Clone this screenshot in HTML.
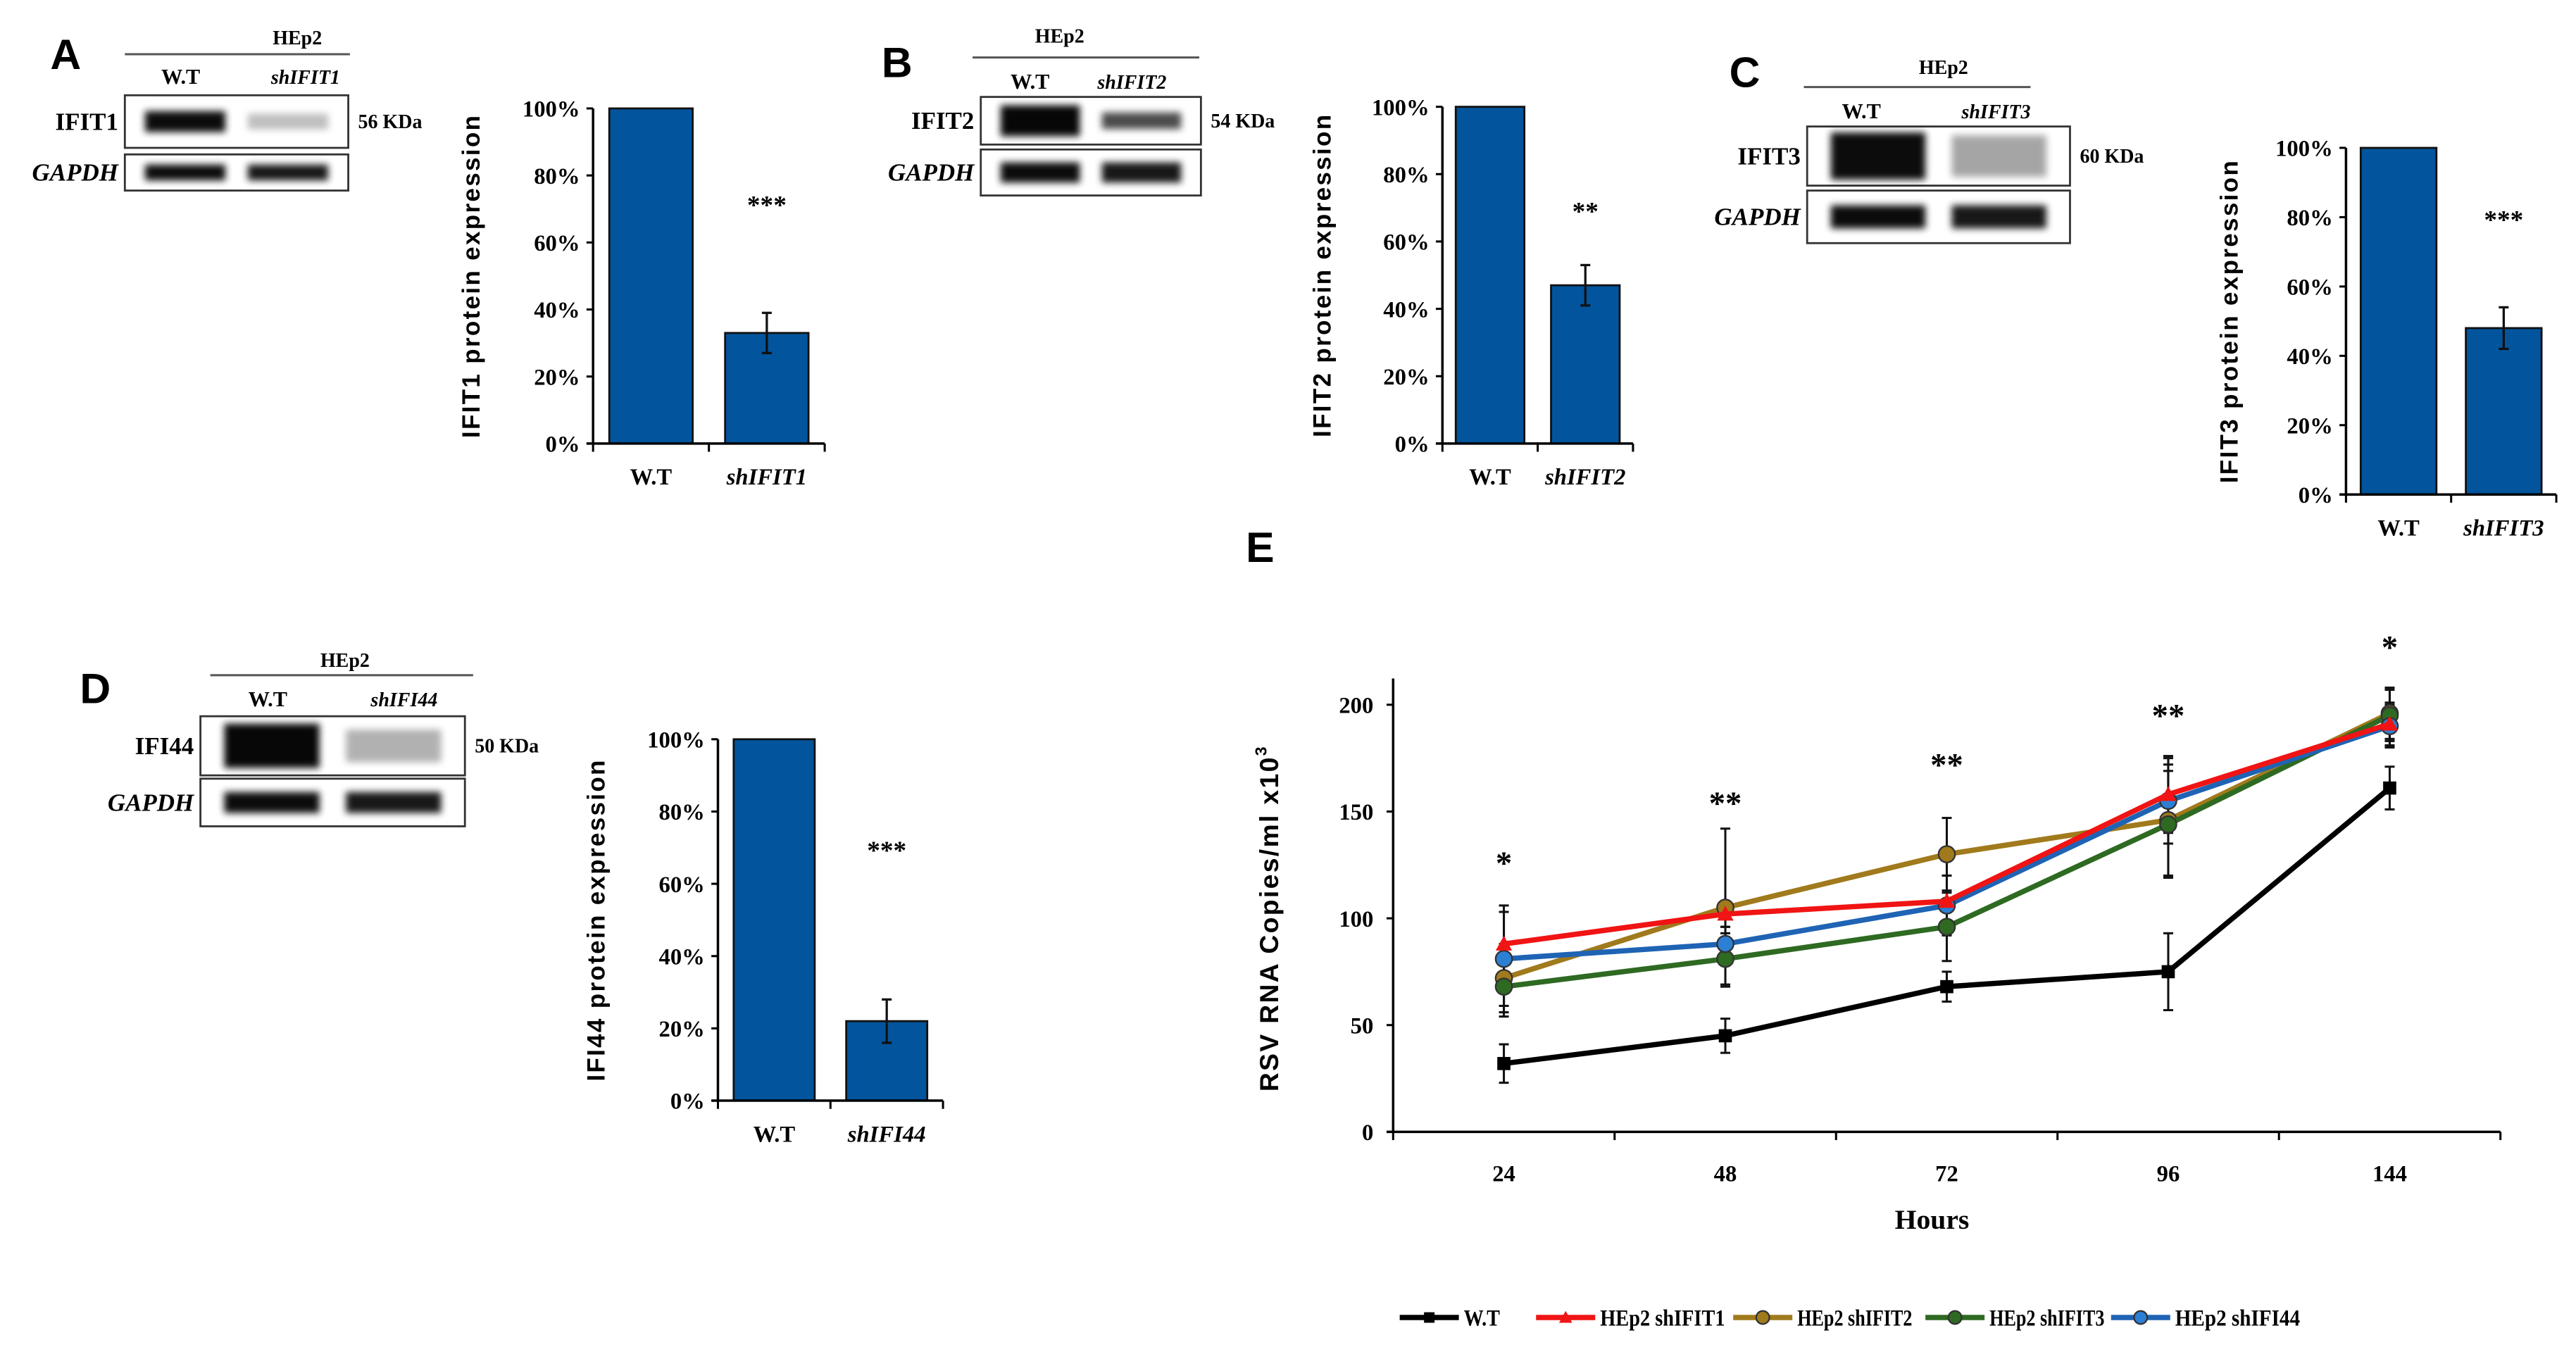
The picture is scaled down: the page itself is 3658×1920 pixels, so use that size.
<!DOCTYPE html>
<html><head><meta charset="utf-8">
<style>
html,body{margin:0;padding:0;background:#fff;}
svg{display:block;}
text{font-family:"Liberation Serif",serif;font-weight:bold;fill:#000;}
.sans{font-family:"Liberation Sans",sans-serif;}
</style></head>
<body>
<svg id="fig" width="3658" height="1920" viewBox="0 0 1568 823" preserveAspectRatio="none" xmlns="http://www.w3.org/2000/svg">
<defs>
<filter id="blur" x="-20%" y="-50%" width="140%" height="200%"><feGaussianBlur stdDeviation="2.2"/></filter>
</defs>
<g id="root"></g>
</svg>
<script>
// ---- Bar panels data ----
const barCats = ["W.T", "sh"];
const barValsA = [100, 33];
const barErrA = [0, 6];
const barValsB = [100, 47];
const barErrB = [0, 6];
const barValsC = [100, 48];
const barErrC = [0, 6];
const barValsD = [100, 22];
const barErrD = [0, 6];
const pctTicks = [0, 20, 40, 60, 80, 100];

// ---- Line chart E data ----
const hoursCats = ["24", "48", "72", "96", "144"];
const yTicksE = [0, 50, 100, 150, 200];
const wtVals = [32, 45, 68, 75, 161];
const wtErr = [9, 8, 7, 18, 10];
const sh1Vals = [88, 102, 108, 158, 191];
const sh1Err = [18, 6, 12, 18, 10];
const sh2Vals = [72, 105, 130, 146, 196];
const sh2Err = [16, 37, 17, 26, 12];
const sh3Vals = [68, 81, 96, 144, 195];
const sh3Err = [14, 12, 16, 25, 12];
const sh44Vals = [81, 88, 106, 155, 190];
const sh44Err = [22, 8, 14, 20, 10];
const starLabels = ["*", "**", "**", "**", "*"];
const starY = [127, 155, 173, 196, 228];

const NS = "http://www.w3.org/2000/svg";
const root = document.getElementById("root");
function mk(tag, attrs, parent) {
  const e = document.createElementNS(NS, tag);
  for (const k in attrs) e.setAttribute(k, attrs[k]);
  (parent || root).appendChild(e);
  return e;
}
function txt(x, y, s, size, anchor, parent, extra) {
  const t = mk("text", Object.assign({x: x, y: y, "font-size": size, "text-anchor": anchor || "middle"}, extra || {}), parent);
  t.textContent = s;
  return t;
}

// ---- Western blot drawing ----
function blot(cfg) {
  const g = mk("g", {});
  
  
  const L = txt(cfg.letter[0], cfg.letter[1], cfg.id.toUpperCase(), 26, "middle", g, {class: "sans"});
  
  
  txt(cfg.hx, cfg.hy, "HEp2", 12, "middle", g);
  mk("line", {x1: cfg.lx1, x2: cfg.lx2, y1: cfg.ly, y2: cfg.ly, stroke: "#555", "stroke-width": 1.3}, g);
  txt(cfg.c1, cfg.cy, "W.T", 13, "middle", g);
  txt(cfg.c2, cfg.cy, cfg.sh, 12, "middle", g, {"font-style": "italic"});
  const b1 = cfg.b1, b2 = cfg.b2;
  mk("rect", {x: b1[0], y: b1[1], width: b1[2] - b1[0], height: b1[3] - b1[1], fill: "#fff", stroke: "#333", "stroke-width": 1.2}, g);
  mk("rect", {x: b2[0], y: b2[1], width: b2[2] - b2[0], height: b2[3] - b2[1], fill: "#fff", stroke: "#333", "stroke-width": 1.2}, g);
  const w = b1[2] - b1[0];
  const lanes = [b1[0] + w * 0.27, b1[0] + w * 0.73];
  const bw = w * 0.36;
  const m1 = (b1[1] + b1[3]) / 2, h1 = (b1[3] - b1[1]);
  const m2 = (b2[1] + b2[3]) / 2, h2 = (b2[3] - b2[1]);
  mk("rect", {x: lanes[0] - bw / 2, y: m1 - h1 * cfg.th[0] / 2, width: bw, height: h1 * cfg.th[0], fill: "#000", opacity: cfg.op[0], filter: "url(#blur)"}, g);
  mk("rect", {x: lanes[1] - bw / 2, y: m1 - h1 * cfg.th[1] / 2, width: bw, height: h1 * cfg.th[1], fill: "#000", opacity: cfg.op[1], filter: "url(#blur)"}, g);
  mk("rect", {x: lanes[0] - bw / 2, y: m2 - h2 * 0.22, width: bw, height: h2 * 0.44, fill: "#000", opacity: 0.95, filter: "url(#blur)"}, g);
  mk("rect", {x: lanes[1] - bw / 2, y: m2 - h2 * 0.22, width: bw, height: h2 * 0.44, fill: "#000", opacity: 0.9, filter: "url(#blur)"}, g);
  txt(b1[0] - 4, m1 + 5, cfg.prot, 15, "end", g);
  txt(b2[0] - 4, m2 + 5, "GAPDH", 15, "end", g, {"font-style": "italic"});
  txt(b1[2] + 6, m1 + 4, cfg.kda, 12, "start", g);
}

blot({id: "a", letter: [40, 42], hx: 181, hy: 27, lx1: 76, lx2: 213, ly: 33, c1: 110, c2: 186, cy: 51, sh: "shIFIT1",
  b1: [76, 58, 212, 90], b2: [76, 94, 212, 116], th: [0.4, 0.3], op: [0.95, 0.25], prot: "IFIT1", kda: "56 KDa"});
blot({id: "b", letter: [546, 47], hx: 645, hy: 26, lx1: 592, lx2: 730, ly: 35, c1: 627, c2: 689, cy: 54, sh: "shIFIT2",
  b1: [597, 59, 731, 88], b2: [597, 91, 731, 119], th: [0.65, 0.35], op: [0.97, 0.7], prot: "IFIT2", kda: "54 KDa"});
blot({id: "c", letter: [1062, 53], hx: 1183, hy: 45, lx1: 1098, lx2: 1236, ly: 53, c1: 1133, c2: 1215, cy: 72, sh: "shIFIT3",
  b1: [1100, 77, 1260, 113], b2: [1100, 116, 1260, 148], th: [0.8, 0.7], op: [0.95, 0.35], prot: "IFIT3", kda: "60 KDa"});
blot({id: "d", letter: [58, 428], hx: 210, hy: 406, lx1: 128, lx2: 288, ly: 411, c1: 163, c2: 246, cy: 430, sh: "shIFI44",
  b1: [122, 436, 283, 472], b2: [122, 474, 283, 503], th: [0.75, 0.55], op: [0.97, 0.3], prot: "IFI44", kda: "50 KDa"});

// ---- Bar charts ----
function barChart(cfg) {
  const g = mk("g", {});
  
  
  const y = v => cfg.y0 - (cfg.y0 - cfg.y100) * v / 100;
  pctTicks.forEach(t => {
    mk("line", {x1: cfg.ax - 4, x2: cfg.ax, y1: y(t), y2: y(t), stroke: "#000", "stroke-width": 1.3}, g);
    const tl = txt(cfg.ax - 8, y(t) + 5, t + "%", 14, "end", g);
    
    
  });
  const slot = (cfg.axEnd - cfg.ax) / barCats.length;
  const labels = ["W.T", cfg.sh];
  cfg.vals.forEach((v, i) => {
    const cx = cfg.ax + slot * (i + 0.5);
    const bw = slot * 0.72;
    const r = mk("rect", {x: cx - bw / 2, y: y(v), width: bw, height: y(0) - y(v), fill: "#02549c", stroke: "#111", "stroke-width": 1.2}, g);
    
    
    const e = cfg.err[i];
    if (e > 0) {
      mk("line", {x1: cx, x2: cx, y1: y(v + e), y2: y(v - e), stroke: "#111", "stroke-width": 1.4}, g);
      mk("line", {x1: cx - 3, x2: cx + 3, y1: y(v + e), y2: y(v + e), stroke: "#111", "stroke-width": 1.4}, g);
      mk("line", {x1: cx - 3, x2: cx + 3, y1: y(v - e), y2: y(v - e), stroke: "#111", "stroke-width": 1.4}, g);
    }
    const cl = txt(cx, cfg.y0 + 25, labels[i], 14, "middle", g, i ? {"font-style": "italic"} : {});
    
    
  });
  const sx = cfg.ax + slot * 1.5;
  const st = txt(sx, cfg.starY, cfg.stars, 16, "middle", g);
  
  
  mk("line", {x1: cfg.ax, x2: cfg.ax, y1: cfg.y100, y2: cfg.y0, stroke: "#000", "stroke-width": 1.5}, g);
  mk("line", {x1: cfg.ax - 4, x2: cfg.axEnd, y1: cfg.y0, y2: cfg.y0, stroke: "#000", "stroke-width": 1.5}, g);
  [0, 1, 2].forEach(i => mk("line", {x1: cfg.ax + slot * i, x2: cfg.ax + slot * i, y1: cfg.y0, y2: cfg.y0 + 5, stroke: "#000", "stroke-width": 1.3}, g));
  const cy = (cfg.y0 + cfg.y100) / 2;
  const tt = txt(cfg.titleX, cy, cfg.title, 15, "middle", g, {class: "sans", transform: "rotate(-90 " + cfg.titleX + " " + cy + ")", "letter-spacing": "1"});
  
  
}
barChart({id: "a", ax: 361, axEnd: 502, y0: 270, y100: 66, vals: barValsA, err: barErrA, sh: "shIFIT1", stars: "***", starY: 130, title: "IFIT1 protein expression", titleX: 292});
barChart({id: "b", ax: 878, axEnd: 994, y0: 270, y100: 65, vals: barValsB, err: barErrB, sh: "shIFIT2", stars: "**", starY: 134, title: "IFIT2 protein expression", titleX: 810});
barChart({id: "c", ax: 1428, axEnd: 1556, y0: 301, y100: 90, vals: barValsC, err: barErrC, sh: "shIFIT3", stars: "***", starY: 139, title: "IFIT3 protein expression", titleX: 1362});
barChart({id: "d", ax: 437, axEnd: 574, y0: 670, y100: 450, vals: barValsD, err: barErrD, sh: "shIFI44", stars: "***", starY: 523, title: "IFI44 protein expression", titleX: 368});

// ---- Line chart E ----
(function () {
  const g = mk("g", {});
  
  
  const ax = 848, axEnd = 1522, y0 = 689, y200 = 429;
  const y = v => y0 - (y0 - y200) * v / 200;
  const slot = (axEnd - ax) / hoursCats.length;
  const x = i => ax + slot * (i + 0.5);
  const L = txt(767, 342, "E", 26, "middle", g, {class: "sans"});
  
  
  yTicksE.forEach(t => {
    mk("line", {x1: ax - 4, x2: ax, y1: y(t), y2: y(t), stroke: "#000", "stroke-width": 1.3}, g);
    const tl = txt(ax - 12, y(t) + 5, String(t), 14, "end", g);
    
    
  });
  hoursCats.forEach((c, i) => {
    const tl = txt(x(i), y0 + 30, c, 14, "middle", g);
    
    
  });
  for (let i = 0; i <= hoursCats.length; i++) mk("line", {x1: ax + slot * i, x2: ax + slot * i, y1: y0, y2: y0 + 5, stroke: "#000", "stroke-width": 1.3}, g);
  mk("line", {x1: ax, x2: ax, y1: 413, y2: y0, stroke: "#000", "stroke-width": 1.5}, g);
  mk("line", {x1: ax - 4, x2: axEnd, y1: y0, y2: y0, stroke: "#000", "stroke-width": 1.5}, g);
  const xt = txt(1176, 748, "Hours", 17, "middle", g);
  
  
  const yt = txt(778, 559, "RSV RNA Copies/ml x10", 16, "middle", g, {class: "sans", transform: "rotate(-90 778 559)", "letter-spacing": "1"});
  const sup = mk("tspan", {"font-size": 10, dy: -7}, yt); sup.textContent = "3";
  
  

  const series = [
    {name: "wt", label: "W.T", vals: wtVals, err: wtErr, col: "#000", mk: "sq"},
    {name: "shifit2", label: "HEp2 shIFIT2", vals: sh2Vals, err: sh2Err, col: "#a07a1c", mk: "circ"},
    {name: "shifit3", label: "HEp2 shIFIT3", vals: sh3Vals, err: sh3Err, col: "#2e6a22", mk: "circ"},
    {name: "shifi44", label: "HEp2 shIFI44", vals: sh44Vals, err: sh44Err, col: "#1f63b4", mk: "circ"},
    {name: "shifit1", label: "HEp2 shIFIT1", vals: sh1Vals, err: sh1Err, col: "#f01414", mk: "tri"}
  ];
  function marker(s, cx, cy, r, parent) {
    if (s.mk === "sq") return mk("rect", {x: cx - r * 0.8, y: cy - r * 0.8, width: r * 1.6, height: r * 1.6, fill: "#000"}, parent);
    if (s.mk === "tri") return mk("polygon", {points: (cx) + "," + (cy - r) + " " + (cx - r) + "," + (cy + r * 0.8) + " " + (cx + r) + "," + (cy + r * 0.8), fill: s.col}, parent);
    const fill = s.name === "shifi44" ? "#2d7fd4" : s.col;
    return mk("circle", {cx: cx, cy: cy, r: r, fill: fill, stroke: "#333", "stroke-width": 1}, parent);
  }
  series.forEach(s => {
    s.vals.forEach((v, i) => {
      const e = s.err[i];
      mk("line", {x1: x(i), x2: x(i), y1: y(v + e), y2: y(v - e), stroke: "#111", "stroke-width": 1.3}, g);
      mk("line", {x1: x(i) - 3, x2: x(i) + 3, y1: y(v + e), y2: y(v + e), stroke: "#111", "stroke-width": 1.3}, g);
      mk("line", {x1: x(i) - 3, x2: x(i) + 3, y1: y(v - e), y2: y(v - e), stroke: "#111", "stroke-width": 1.3}, g);
    });
  });
  series.forEach(s => {
    const pts = s.vals.map((v, i) => x(i) + "," + y(v)).join(" ");
    const pl = mk("polyline", {points: pts, fill: "none", stroke: s.col, "stroke-width": 3.2, "stroke-linejoin": "round"}, g);
    
    
    s.vals.forEach((v, i) => {
      const m = marker(s, x(i), y(v), 5, g);
      
      
    });
  });
  starLabels.forEach((s, i) => {
    const t = txt(x(i), y(starY[i]) + 8, s, 20, "middle", g);
    
    
  });
  // legend
  const legendOrder = [series[0], series[4], series[1], series[2], series[3]];
  const lx = [852, 935, 1055, 1172, 1285];
  const lw = [22, 76, 70, 70, 76];
  const lg = mk("g", {}, g);
  
  
  legendOrder.forEach((s, i) => {
    const eg = mk("g", {}, lg);
    
    
    mk("line", {x1: lx[i], x2: lx[i] + 36, y1: 802, y2: 802, stroke: s.col, "stroke-width": 3.2}, eg);
    marker(s, lx[i] + 18, 802, 4, eg);
    txt(lx[i] + 39, 807, s.label, 14, "start", eg, {textLength: lw[i], lengthAdjust: "spacingAndGlyphs"});
  });
})();
</script>
</body></html>
